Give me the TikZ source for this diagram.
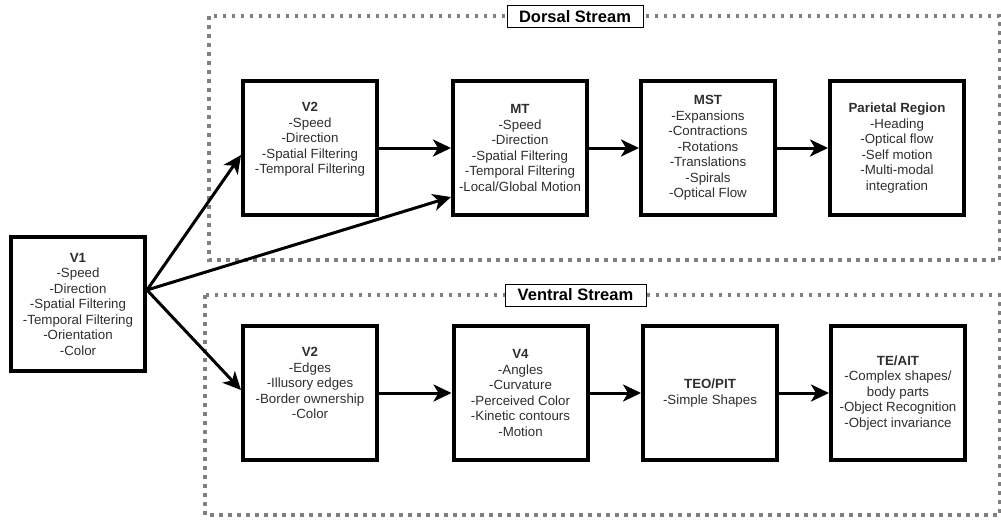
\documentclass[tikz,border=0pt]{standalone}
\usepackage{fontspec}
\setmainfont{Liberation Sans}
\usetikzlibrary{arrows.meta,calc}
\definecolor{txt}{HTML}{2E2E2E}
\definecolor{dotc}{HTML}{808080}
\begin{document}
\begin{tikzpicture}[x=1pt,y=-1pt,
  areabox/.style={draw=black,line width=4pt,minimum width=134pt,minimum height=134pt,
    align=center,inner sep=0pt,font=\fontsize{13.3}{15.5}\selectfont,text=txt},
  stream/.style={draw=dotc,line width=3.5pt,dash pattern=on 3.5pt off 5.5pt},
  streamlabel/.style={draw=black,line width=1pt,fill=white,
    font=\fontsize{16.5}{18}\selectfont\bfseries,inner sep=0pt,minimum height=22pt},
  flow/.style={-{Stealth[length=18pt,width=17pt,inset=5pt]},line width=3pt}]
\useasboundingbox (0,0) rectangle (1001,520);

% stream areas
\draw[stream] (209,16) rectangle (999.5,260);
\draw[stream] (205,295) rectangle (999.5,515);
\node[streamlabel,minimum width=136pt] (dl) at (575,16.5) {Dorsal Stream};
\node[streamlabel,minimum width=141pt] (vl) at (575.5,295) {Ventral Stream};

% boxes
\node[areabox] (v1) at (78,304) {\textbf{V1}\\-Speed\\-Direction\\-Spatial Filtering\\-Temporal Filtering\\-Orientation\\-Color};

\node[areabox] (v2d) at (310,148) {\textbf{V2}\\-Speed\\-Direction\\-Spatial Filtering\\-Temporal Filtering\\\strut};
\node[areabox] (mt) at (520,148) {\textbf{MT}\\-Speed\\-Direction\\-Spatial Filtering\\-Temporal Filtering\\-Local/Global Motion};
\node[areabox] (mst) at (708,148) {\textbf{MST}\\-Expansions\\-Contractions\\-Rotations\\-Translations\\-Spirals\\-Optical Flow};
\node[areabox] (par) at (897,148) {\textbf{Parietal Region}\\-Heading\\-Optical flow\\-Self motion\\-Multi-modal\\integration};

\node[areabox] (v2v) at (310,393) {\textbf{V2}\\-Edges\\-Illusory edges\\-Border ownership\\-Color\\\strut};
\node[areabox] (v4) at (520.5,393) {\textbf{V4}\\-Angles\\-Curvature\\-Perceived Color\\-Kinetic contours\\-Motion};
\node[areabox] (teo) at (710,393) {\textbf{TEO/PIT}\\-Simple Shapes};
\node[areabox] (te) at (898,393) {\textbf{TE/AIT}\\-Complex shapes/\\body parts\\-Object Recognition\\-Object invariance};

% connectors from V1
\coordinate (v1out) at ($(v1.east)+(0,-14)$);
\coordinate (v2din) at ($(v2d.west)+(0,7)$);
\coordinate (mtin) at ($(mt.west)+(0,49)$);
\coordinate (v2vin) at ($(v2v.west)+(0,-3)$);
\draw[flow] (v1out) -- (v2din);
\draw[flow] (v1out) -- (mtin);
\draw[flow] (v1out) -- (v2vin);

% dorsal chain
\draw[flow] (v2d.east) -- (mt.west);
\draw[flow] (mt.east) -- (mst.west);
\draw[flow] (mst.east) -- (par.west);

% ventral chain
\draw[flow] (v2v.east) -- (v4.west);
\draw[flow] (v4.east) -- (teo.west);
\draw[flow] (teo.east) -- (te.west);
\end{tikzpicture}
\end{document}
